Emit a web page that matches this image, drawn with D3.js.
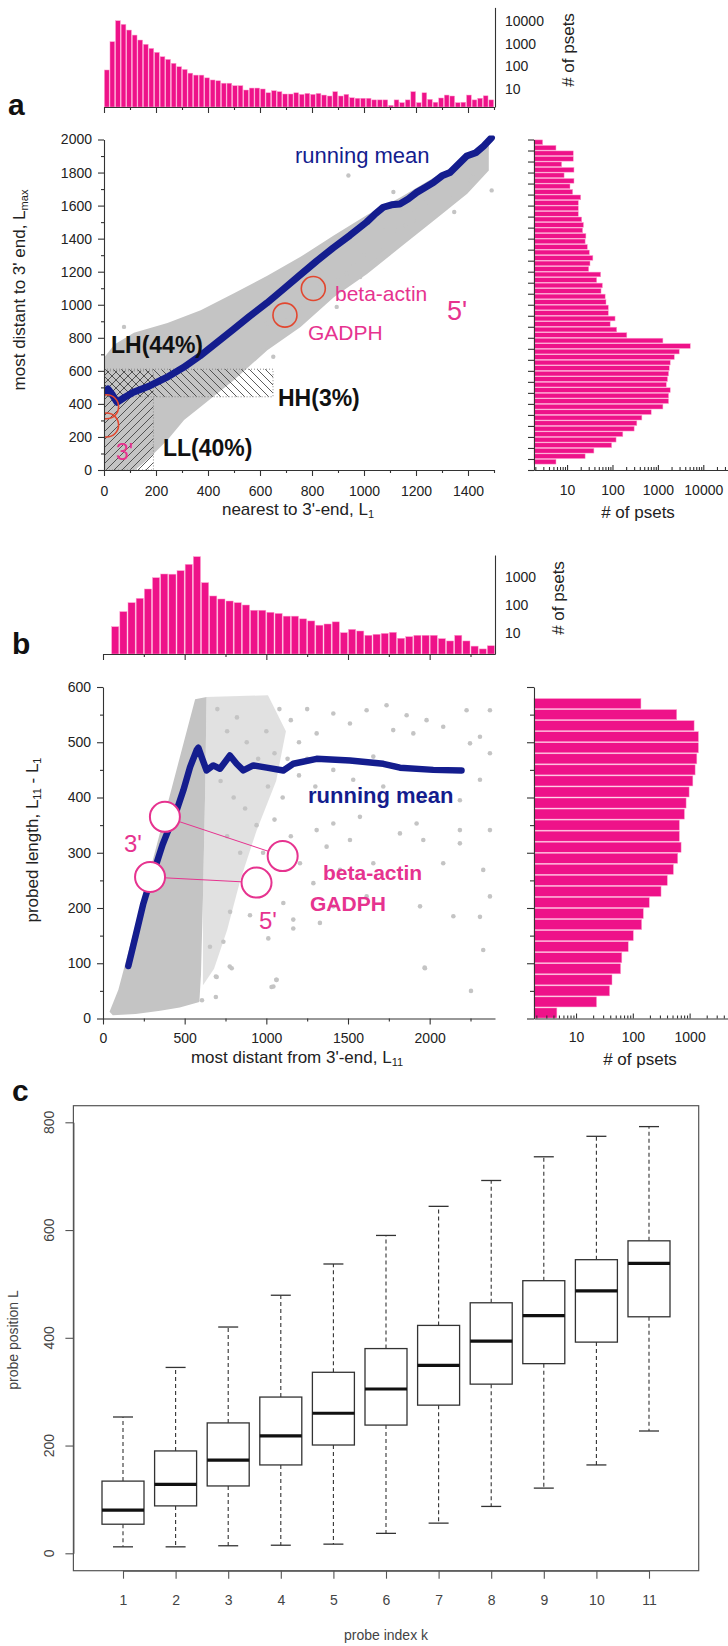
<!DOCTYPE html>
<html>
<head>
<meta charset="utf-8">
<script src="https://cdn.jsdelivr.net/npm/d3@7"></script>
<style>
  body { margin: 0; background: #fff; }
  svg text { font-family: "Liberation Sans", Arial, Helvetica, sans-serif; }
</style>
</head>
<body>
<svg id="fig" width="728" height="1646"></svg>
<script>
// ---------------- panel a data ----------------
// histogram of L1 (nearest probe), 70 bins over 0..1500
const topA_counts = [69, 1220, 10300, 7150, 4000, 2400, 1450, 940, 620, 415,
  266, 203, 136, 96, 73, 50, 41, 41, 31, 25,
  23, 18, 18, 14, 14, 9, 11, 11, 10, 6.8,
  8.4, 7.6, 6, 6, 6.8, 5.8, 6.4, 5.8, 6.4, 5.4,
  4.9, 7.6, 4.9, 5.8, 4.1, 3.9, 3.9, 3.9, 3.3, 3.3,
  3.3, 1.9, 3.3, 2.5, 3.3, 7.6, 2.5, 6.8, 3.5, 2.6,
  4, 5.4, 4.9, 2.5, 2.6, 5.4, 3.3, 3.9, 5, 3.3];
// histogram of Lmax, bins of 2000/60 starting from the 2nd bin (bottom to top)
const rightA_counts = [5.7, 25, 39, 96, 120, 169, 300, 344, 444, 713,
  1290, 1720, 1720, 1870, 1530, 1630, 1720, 1780, 1870, 2300,
  2950, 5170, 1290, 207, 124, 89, 114, 81, 81, 72,
  69, 56, 60, 45, 55, 30, 32, 37, 31, 28,
  25, 26, 22, 23, 21, 17.7, 17.7, 17.7, 20, 13.3,
  11.6, 14.2, 8.6, 14.2, 7.6, 13.7, 13.7, 5.7, 2.9];
// running mean of Lmax vs L1
const runA_x = [0, 15, 30, 50, 80, 113, 177, 241, 305, 369, 433, 497, 560, 626, 690, 754, 818, 882, 946, 1010, 1040, 1074, 1106, 1138, 1170, 1203, 1235, 1267, 1300, 1331, 1363, 1395, 1430, 1460, 1490];
const runA_y = [470, 490, 460, 410, 440, 470, 510, 560, 620, 690, 770, 850, 930, 1010, 1095, 1180, 1265, 1345, 1420, 1500, 1545, 1590, 1605, 1610, 1640, 1680, 1710, 1740, 1780, 1800, 1850, 1900, 1920, 1960, 2010];
// outline of the dense grey cloud of probesets
const cloudA_top = [[0, 680], [40, 760], [115, 830], [244, 890], [372, 967], [500, 1069], [628, 1175], [756, 1290], [885, 1420], [1013, 1545], [1141, 1650], [1269, 1770], [1397, 1885], [1480, 1990]];
const cloudA_bottom = [[0, 0], [120, 0], [150, 40], [192, 100], [244, 181], [308, 302], [372, 382], [500, 544], [628, 725], [756, 866], [885, 1047], [1013, 1188], [1141, 1349], [1269, 1510], [1397, 1672], [1480, 1812]];
// isolated probesets
const scatterA = [[940, 1782], [1113, 1682], [1138, 1581], [1203, 1571], [1347, 1561], [1305, 1712], [1408, 1752], [1421, 1792], [1491, 1692], [1126, 1450], [1010, 1410], [959, 1249], [933, 1188], [985, 1168], [1049, 1269], [831, 1107], [754, 976], [703, 906], [626, 886], [651, 685], [613, 725], [664, 805], [895, 987], [818, 1007], [1074, 1450], [1190, 1510], [1254, 1651], [1357, 1813], [1446, 1893], [1472, 1953], [77, 866], [1180, 1560], [1240, 1620], [1330, 1660], [1420, 1740], [1060, 1350], [1000, 1300], [900, 1150], [1160, 1480]];
// marked genes (3' and 5' probesets)
const genesA = [[805, 1098], [696, 937], [10, 383], [10, 272]];
// quadrant boxes [x0, x1, y0, y1]
const boxLL = [0, 190, 0, 600];
const boxHH = [0, 650, 443, 610];

// ---------------- panel b data ----------------
// histogram of L11, bins of 50 over 50..2400
const topB_counts = [16.8, 58, 121, 173, 373, 946, 1280, 1260, 1680, 2830,
  5320, 628, 210, 164, 139, 121, 100, 65, 65, 55,
  50, 40, 40, 32, 27, 19, 21, 25, 10.3, 13.5,
  11.8, 8.3, 9, 9.7, 10.6, 6.5, 7.4, 8.3, 8.3, 8.3,
  6.3, 5.2, 8.3, 5.2, 3.4, 2.7, 3.5];
// histogram of probed length, bins of 20 over 0..580 (bottom to top)
const rightB_counts = [4.6, 23, 39, 43, 61, 64, 83, 102, 143, 153,
  195, 314, 405, 518, 618, 708, 660, 660, 810, 867,
  980, 1140, 1250, 1340, 1430, 1430, 1200, 593, 139];
const runB_x = [155, 200, 247, 290, 328, 365, 400, 451, 492, 533, 574, 584, 604, 634, 675, 716, 777, 818, 859, 920, 1002, 1104, 1165, 1308, 1512, 1716, 1818, 2022, 2195];
const runB_y = [95, 150, 208, 250, 281, 315, 341, 377, 413, 455, 486, 490, 473, 449, 458, 452, 476, 461, 449, 458, 454, 449, 461, 470, 467, 461, 454, 450, 449];
const cloudB = [[40, 12], [94, 52], [330, 315], [564, 578], [634, 582], [626, 420], [612, 220], [600, 80], [590, 30], [470, 20], [350, 14], [200, 8], [60, 6]];
const hazeB = [[634, 582], [1010, 585], [1120, 520], [1060, 430], [940, 340], [840, 250], [760, 160], [680, 90], [612, 60], [612, 220], [626, 420]];
const scatterB = [[1614, 558], [1736, 567], [1859, 549], [1981, 540], [2083, 528], [2226, 558], [2369, 558], [2308, 510], [2369, 480], [2247, 498], [1900, 516], [1777, 522], [1512, 534], [1410, 552], [1308, 516], [1655, 474], [1532, 432], [1410, 450], [1716, 420], [1961, 395], [2185, 395], [2308, 432], [2185, 341], [2369, 341], [1920, 353], [1818, 335], [1573, 365], [1410, 353], [1308, 341], [1369, 311], [1512, 323], [1206, 281], [1288, 245], [1451, 269], [1961, 323], [2083, 281], [2328, 269], [2185, 317], [2369, 221], [1941, 203], [2145, 185], [1655, 281], [1104, 209], [1165, 179], [1328, 173], [1410, 203], [1614, 221], [2328, 124], [1971, 91], [778, 193], [900, 187], [1012, 145], [1165, 163], [788, 91], [696, 75], [1063, 70], [1043, 58], [737, 139], [655, 130], [691, 76], [691, 39], [606, 33], [776, 94], [1032, 57], [1061, 70], [1969, 92], [2253, 50], [2308, 184], [700, 560], [760, 520], [820, 545], [880, 500], [950, 470], [720, 430], [800, 400], [870, 380], [1000, 520], [1050, 480], [760, 330], [840, 300], [940, 350], [1100, 400], [1150, 540], [1200, 500], [1250, 560], [1200, 440], [1130, 470], [1080, 560], [1010, 420], [980, 300], [1050, 360], [900, 260], [960, 230], [1150, 330], [1250, 470], [1300, 420]];
// beta-actin and GADPH: [3' position, 5' position]
const genesB = [[[379, 365], [1100, 294]], [[288, 256], [940, 246]]];

// ---------------- panel c data ----------------
const probeK = ["1", "2", "3", "4", "5", "6", "7", "8", "9", "10", "11"];
const whiskHi = [253, 345, 420, 479, 537, 590, 644, 692, 736, 774, 792];
const q3 = [134, 190, 242, 290, 336, 380, 423, 465, 506, 545, 580];
const med = [80, 128, 173, 218, 260, 305, 349, 394, 441, 487, 538];
const q1 = [54, 88, 125, 164, 201, 238, 275, 314, 352, 392, 439];
const whiskLo = [12, 12, 14, 15, 17, 37, 56, 87, 121, 164, 227];

// ---------------- drawing ----------------
const svg = d3.select("#fig");
const FONT = "'Liberation Sans', Arial, Helvetica, sans-serif";
const PINK = "#ee1289";
const NAVY = "#141d8e";
const DOT = "#c4c4c4";
const MARK = "#e6338f";

svg.append("rect").attr("width", 728).attr("height", 1646).attr("fill", "#fff");

const defs = svg.append("defs");
defs.append("pattern").attr("id", "hatchF").attr("patternUnits", "userSpaceOnUse")
  .attr("width", 8).attr("height", 8)
  .append("path").attr("d", "M-2,2 L2,-2 M0,8 L8,0 M6,10 L10,6")
  .attr("stroke", "#333").attr("stroke-width", 0.8);
defs.append("pattern").attr("id", "hatchB").attr("patternUnits", "userSpaceOnUse")
  .attr("width", 8).attr("height", 8)
  .append("path").attr("d", "M-2,6 L2,10 M0,0 L8,8 M6,-2 L10,2")
  .attr("stroke", "#333").attr("stroke-width", 0.8);

function drawAxis(x, y, gen, major, minor, size, minorSize, fmt, pad) {
  const g = svg.append("g").attr("transform", `translate(${x},${y})`);
  g.call(gen.tickValues(major).tickSize(size).tickSizeOuter(0).tickPadding(pad == null ? 3 : pad)
    .tickFormat(fmt || (() => "")));
  g.attr("font-family", FONT).attr("font-size", 14);
  g.selectAll(".domain, .tick line").attr("stroke", "#333").attr("stroke-width", 1.1);
  g.selectAll("text").attr("fill", "#222");
  if (minor) {
    const gm = svg.append("g").attr("transform", `translate(${x},${y})`);
    gm.call(gen.tickValues(minor).tickSize(minorSize).tickFormat(() => ""));
    gm.select(".domain").remove();
    gm.selectAll("line").attr("stroke", "#333").attr("stroke-width", 1.1);
  }
  return g;
}

function label(x, y, parts, o = {}) {
  const size = o.size || 14;
  const t = svg.append("text").attr("x", x).attr("y", y)
    .attr("font-size", size).attr("fill", o.fill || "#222")
    .attr("text-anchor", o.anchor || "start")
    .attr("dominant-baseline", "central")
    .attr("font-weight", o.bold ? "bold" : null);
  if (o.rotate) t.attr("transform", `rotate(${o.rotate},${x},${y})`);
  let shifted = false;
  (Array.isArray(parts) ? parts : [parts]).forEach(p => {
    if (typeof p === "string") {
      t.append("tspan").attr("dy", shifted ? -5 : null).text(p);
      shifted = false;
    } else {
      t.append("tspan").attr("dy", 5).attr("font-size", size * 0.65).text(p.sub);
      shifted = true;
    }
  });
  return t;
}

function logMinor(domain) {
  const out = [];
  for (let d = 1; d <= 1e5; d *= 10)
    for (let m = 2; m <= 9; m++) {
      const v = d * m;
      if (v > domain[0] && v < domain[1]) out.push(v);
    }
  return out;
}

const fmtInt = d3.format("d");

// ===== panel a =====
const xA = d3.scaleLinear().domain([0, 1500]).range([104, 494]);
const yA = d3.scaleLinear().domain([0, 2000]).range([470, 139.5]);
const yTopA = d3.scaleLog().domain([1.6, 40000]).range([107, 7.4]);
const xRA = d3.scaleLog().domain([1.87, 35000]).range([534, 728]);

// top histogram
const binTA = 1500 / topA_counts.length;
svg.append("g").selectAll("rect").data(topA_counts).join("rect")
  .attr("x", (d, i) => xA(i * binTA) + 0.4)
  .attr("width", xA(binTA) - xA(0) - 0.8)
  .attr("y", d => yTopA(d))
  .attr("height", d => yTopA(1.6) - yTopA(d))
  .attr("fill", PINK).attr("stroke", "#ff9fcf").attr("stroke-width", 0.5);
drawAxis(0, yTopA(1.6), d3.axisBottom(xA), d3.range(0, 1401, 200), d3.range(100, 1501, 200), 6, 3);
drawAxis(xA(1500) + 1, 0, d3.axisRight(yTopA), [10, 100, 1000, 10000], null, 0, 0, fmtInt, 10);
label(568, 50, "# of psets", { size: 17, anchor: "middle", rotate: -90 });
label(8, 104, "a", { size: 30, bold: true, fill: "#111" });

// main scatter
const clipA = defs.append("clipPath").attr("id", "clipA");
clipA.append("rect").attr("x", xA(0)).attr("y", yA(2000) - 4)
  .attr("width", xA(1500) - xA(0) + 4).attr("height", yA(0) - yA(2000) + 4);
const gA = svg.append("g").attr("clip-path", "url(#clipA)");

const poly = (pts, sx, sy) => d3.line().x(d => sx(d[0])).y(d => sy(d[1])).curve(d3.curveLinearClosed)(pts);
gA.append("path").attr("d", poly(cloudA_top.concat(cloudA_bottom.slice().reverse()), xA, yA))
  .attr("fill", DOT);
gA.append("g").selectAll("circle").data(scatterA).join("circle")
  .attr("cx", d => xA(d[0])).attr("cy", d => yA(d[1])).attr("r", 2.2).attr("fill", DOT);

// quadrant hatching
gA.append("rect").attr("x", xA(boxLL[0])).attr("width", xA(boxLL[1]) - xA(boxLL[0]))
  .attr("y", yA(boxLL[3])).attr("height", yA(boxLL[2]) - yA(boxLL[3]))
  .attr("fill", "url(#hatchF)").attr("stroke", "#888").attr("stroke-dasharray", "1,2");
gA.append("rect").attr("x", xA(boxHH[0])).attr("width", xA(boxHH[1]) - xA(boxHH[0]))
  .attr("y", yA(boxHH[3])).attr("height", yA(boxHH[2]) - yA(boxHH[3]))
  .attr("fill", "url(#hatchB)").attr("stroke", "#888").attr("stroke-dasharray", "1,2");

gA.append("path")
  .attr("d", d3.line().x((d, i) => xA(runA_x[i])).y((d, i) => yA(runA_y[i]))(runA_x))
  .attr("fill", "none").attr("stroke", NAVY).attr("stroke-width", 7)
  .attr("stroke-linejoin", "round").attr("stroke-linecap", "round");

gA.append("g").selectAll("circle").data(genesA).join("circle")
  .attr("cx", d => xA(d[0])).attr("cy", d => yA(d[1])).attr("r", 12)
  .attr("fill", "none").attr("stroke", "#e2472f").attr("stroke-width", 1.6);

drawAxis(xA(0), 0, d3.axisLeft(yA), d3.range(0, 2001, 200), d3.range(100, 2000, 200), 6, 3, fmtInt, 6);
drawAxis(0, yA(0), d3.axisBottom(xA), d3.range(0, 1401, 200), d3.range(100, 1501, 200), 6, 3, fmtInt, 10);
label(298, 509, ["nearest to 3'-end, L", { sub: "1" }], { size: 17, anchor: "middle" });
label(19, 290, ["most distant to 3' end, L", { sub: "max" }], { size: 17, anchor: "middle", rotate: -90 });

label(295, 155, "running mean", { size: 22, fill: NAVY });
label(335, 293, "beta-actin", { size: 21, fill: MARK });
label(308, 332, "GADPH", { size: 21, fill: MARK });
label(447, 311, "5'", { size: 27, fill: MARK });
label(116, 452, "3'", { size: 23, fill: MARK });
label(111, 345, "LH(44%)", { size: 23, bold: true, fill: "#111" });
label(278, 398, "HH(3%)", { size: 23, bold: true, fill: "#111" });
label(163, 448, "LL(40%)", { size: 23, bold: true, fill: "#111" });

// right histogram
const binRA = 2000 / 60;
svg.append("g").selectAll("rect").data(rightA_counts).join("rect")
  .attr("x", xRA(1.87))
  .attr("y", (d, i) => yA((i + 2) * binRA) + 0.4)
  .attr("height", yA(0) - yA(binRA) - 0.8)
  .attr("width", d => xRA(d) - xRA(1.87))
  .attr("fill", PINK).attr("stroke", "#ff9fcf").attr("stroke-width", 0.5);
drawAxis(xRA(1.87), 0, d3.axisLeft(yA), d3.range(0, 2001, 2 * binRA), null, 6, 0);
drawAxis(0, yA(0), d3.axisBottom(xRA), [10, 100, 1000, 10000], logMinor(xRA.domain()), -5, -3, fmtInt, 15);
label(638, 512, "# of psets", { size: 17, anchor: "middle" });

// ===== panel b =====
const xB = d3.scaleLinear().domain([0, 2400]).range([103, 495]);
const yB = d3.scaleLinear().domain([0, 600]).range([1018.5, 687]);
const yTopB = d3.scaleLog().domain([1.778, 6100]).range([654, 555]);
const xRB = d3.scaleLog().domain([1.82, 4740]).range([534, 728]);

const binTB = 50;
svg.append("g").selectAll("rect").data(topB_counts).join("rect")
  .attr("x", (d, i) => xB((i + 1) * binTB) + 0.5)
  .attr("width", xB(binTB) - xB(0) - 1)
  .attr("y", d => yTopB(d))
  .attr("height", d => yTopB(1.778) - yTopB(d))
  .attr("fill", PINK).attr("stroke", "#ff9fcf").attr("stroke-width", 0.5);
drawAxis(0, yTopB(1.778), d3.axisBottom(xB), d3.range(0, 2401, 500), d3.range(250, 2400, 500), 6, 3);
drawAxis(xB(2400), 0, d3.axisRight(yTopB), [10, 100, 1000], null, 0, 0, fmtInt, 10);
label(558, 598, "# of psets", { size: 17, anchor: "middle", rotate: -90 });
label(12, 643, "b", { size: 30, bold: true, fill: "#111" });

const gB = svg.append("g");
gB.append("path").attr("d", poly(hazeB, xB, yB)).attr("fill", DOT).attr("opacity", 0.5);
gB.append("path").attr("d", poly(cloudB, xB, yB)).attr("fill", DOT);
gB.append("g").selectAll("circle").data(scatterB).join("circle")
  .attr("cx", d => xB(d[0])).attr("cy", d => yB(d[1])).attr("r", 2.3).attr("fill", DOT);
gB.append("path")
  .attr("d", d3.line().x((d, i) => xB(runB_x[i])).y((d, i) => yB(runB_y[i]))(runB_x))
  .attr("fill", "none").attr("stroke", NAVY).attr("stroke-width", 6.5)
  .attr("stroke-linejoin", "round").attr("stroke-linecap", "round");
gB.append("g").selectAll("line").data(genesB).join("line")
  .attr("x1", d => xB(d[0][0])).attr("y1", d => yB(d[0][1]))
  .attr("x2", d => xB(d[1][0])).attr("y2", d => yB(d[1][1]))
  .attr("stroke", MARK).attr("stroke-width", 1);
gB.append("g").selectAll("circle").data(genesB.flat()).join("circle")
  .attr("cx", d => xB(d[0])).attr("cy", d => yB(d[1])).attr("r", 15)
  .attr("fill", "#fff").attr("stroke", MARK).attr("stroke-width", 2);

drawAxis(xB(0), 0, d3.axisLeft(yB), d3.range(0, 601, 100), d3.range(50, 600, 100), 6, 3, fmtInt, 6);
drawAxis(0, yB(0), d3.axisBottom(xB), d3.range(0, 2001, 500), d3.range(250, 2400, 500), 6, 3, fmtInt, 9);
label(297, 1057, ["most distant from 3'-end, L", { sub: "11" }], { size: 17, anchor: "middle" });
label(32, 840, ["probed length, L", { sub: "11" }, " - L", { sub: "1" }], { size: 17, anchor: "middle", rotate: -90 });

label(308, 795, "running mean", { size: 22, bold: true, fill: NAVY });
label(124, 843, "3'", { size: 24, fill: MARK });
label(259, 920, "5'", { size: 24, fill: MARK });
label(323, 872, "beta-actin", { size: 21, bold: true, fill: MARK });
label(310, 903, "GADPH", { size: 21, bold: true, fill: MARK });

// right histogram b
const binRB = 20;
svg.append("g").selectAll("rect").data(rightB_counts).join("rect")
  .attr("x", xRB(1.82))
  .attr("y", (d, i) => yB((i + 1) * binRB) + 0.5)
  .attr("height", yB(0) - yB(binRB) - 1)
  .attr("width", d => xRB(d) - xRB(1.82))
  .attr("fill", PINK).attr("stroke", "#ff9fcf").attr("stroke-width", 0.5);
drawAxis(xRB(1.82), 0, d3.axisLeft(yB), d3.range(0, 601, 100), d3.range(50, 600, 100), 7, 4);
drawAxis(0, yB(0), d3.axisBottom(xRB), [10, 100, 1000], logMinor(xRB.domain()), -5, -3, fmtInt, 14);
label(640, 1059, "# of psets", { size: 17, anchor: "middle" });

// ===== panel c =====
const xC = d3.scalePoint().domain(probeK).range([123, 649]);
const yC = d3.scaleLinear().domain([0, 800]).range([1553.3, 1122.3]);
const frame = { x0: 73.4, x1: 698.7, y0: 1105.7, y1: 1570.7 };

label(12, 1090, "c", { size: 30, bold: true, fill: "#111" });
svg.append("rect").attr("x", frame.x0).attr("y", frame.y0)
  .attr("width", frame.x1 - frame.x0).attr("height", frame.y1 - frame.y0)
  .attr("fill", "none").attr("stroke", "#555").attr("stroke-width", 1.2);

const boxW = 42, capW = 20;
const gC = svg.append("g").attr("stroke", "#333");
probeK.forEach((k, i) => {
  const cx = xC(k);
  gC.append("line").attr("x1", cx).attr("x2", cx).attr("y1", yC(q3[i])).attr("y2", yC(whiskHi[i]))
    .attr("stroke-dasharray", "4,3").attr("stroke-width", 1.1);
  gC.append("line").attr("x1", cx).attr("x2", cx).attr("y1", yC(q1[i])).attr("y2", yC(whiskLo[i]))
    .attr("stroke-dasharray", "4,3").attr("stroke-width", 1.1);
  gC.append("line").attr("x1", cx - capW / 2).attr("x2", cx + capW / 2)
    .attr("y1", yC(whiskHi[i])).attr("y2", yC(whiskHi[i])).attr("stroke-width", 1.3);
  gC.append("line").attr("x1", cx - capW / 2).attr("x2", cx + capW / 2)
    .attr("y1", yC(whiskLo[i])).attr("y2", yC(whiskLo[i])).attr("stroke-width", 1.3);
  gC.append("rect").attr("x", cx - boxW / 2).attr("width", boxW)
    .attr("y", yC(q3[i])).attr("height", yC(q1[i]) - yC(q3[i]))
    .attr("fill", "#fff").attr("stroke-width", 1.3);
  gC.append("line").attr("x1", cx - boxW / 2).attr("x2", cx + boxW / 2)
    .attr("y1", yC(med[i])).attr("y2", yC(med[i])).attr("stroke", "#111").attr("stroke-width", 3.2);
});

const axC = drawAxis(frame.x0, 0, d3.axisLeft(yC), [0, 200, 400, 600, 800], null, 8, 0);
axC.selectAll(".domain, .tick line").attr("stroke", "#555");
[0, 200, 400, 600, 800].forEach(v =>
  label(49, yC(v), String(v), { size: 14, anchor: "middle", rotate: -90, fill: "#444" }));
const axCx = drawAxis(0, frame.y1, d3.axisBottom(xC), probeK, null, 8, 0, d => d, 16);
axCx.selectAll(".domain, .tick line").attr("stroke", "#555");
axCx.selectAll("text").attr("fill", "#444");
label(386, 1635, "probe index k", { size: 14, anchor: "middle", fill: "#444" });
label(13, 1340, "probe position L", { size: 14, anchor: "middle", rotate: -90, fill: "#444" });
</script>
</body>
</html>
